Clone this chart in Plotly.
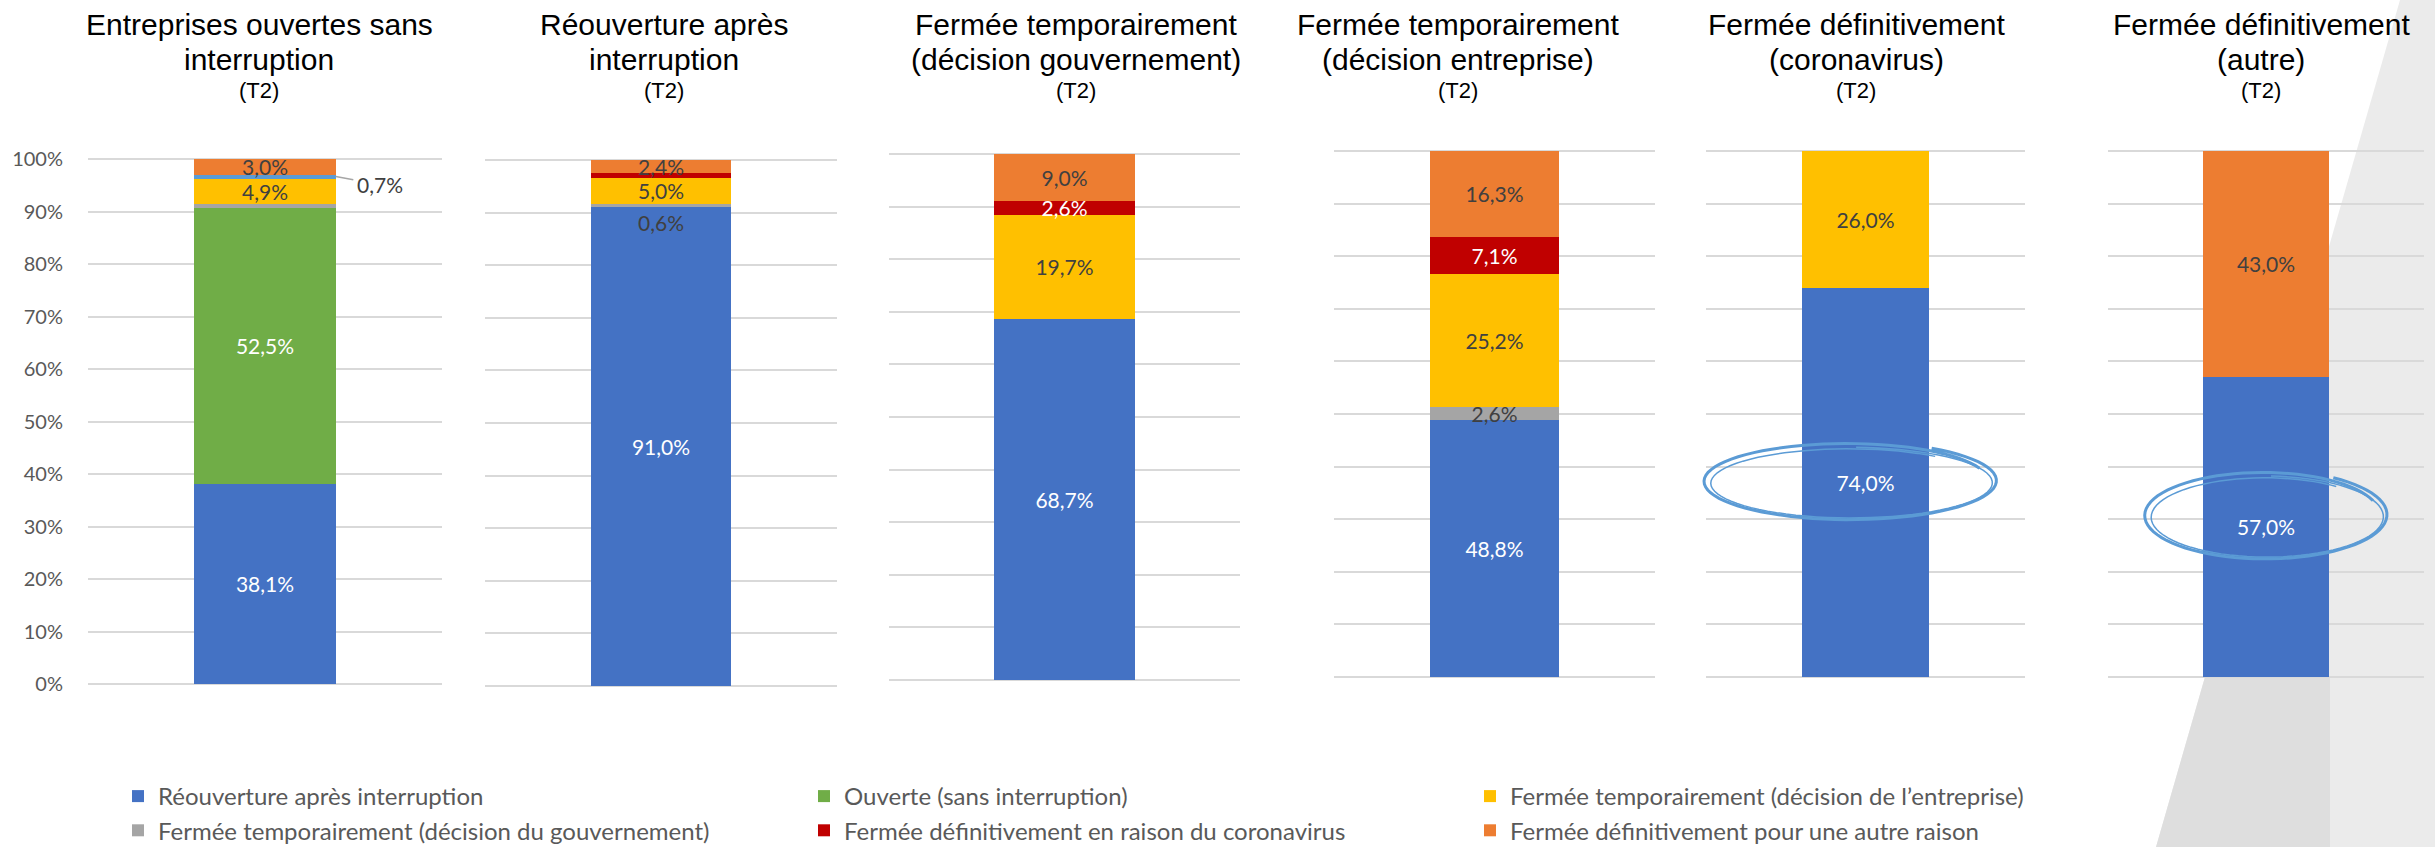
import numpy as np
import plotly.graph_objects as go

W, H = 2435, 847

# ---- data (percent of firms, T2) ----
panel_titles = [
    ("Entreprises ouvertes sans", "interruption"),
    ("Réouverture après", "interruption"),
    ("Fermée temporairement", "(décision gouvernement)"),
    ("Fermée temporairement", "(décision entreprise)"),
    ("Fermée définitivement", "(coronavirus)"),
    ("Fermée définitivement", "(autre)"),
]
period = "(T2)"
y_ticks = [0, 10, 20, 30, 40, 50, 60, 70, 80, 90, 100]

reouverture = [38.1, 91.0, 68.7, 48.8, 74.0, 57.0]
ouverte = [52.5, 0, 0, 0, 0, 0]
ferme_gouv = [0.8, 0.6, 0, 2.6, 0, 0]
ferme_entreprise = [4.9, 5.0, 19.7, 25.2, 26.0, 0]
ferme_def_corona = [0.7, 1.0, 2.6, 7.1, 0, 0]
ferme_def_autre = [3.0, 2.4, 9.0, 16.3, 0, 43.0]

series = [
    ("Réouverture après interruption", reouverture, "#4472C4", "white", "legend", 1),
    ("Ouverte (sans interruption)", ouverte, "#70AD47", "white", "legend2", 1),
    ("Fermée temporairement (décision du gouvernement)", ferme_gouv, "#A5A5A5", "#404040", "legend", 2),
    ("Fermée temporairement (décision de l’entreprise)", ferme_entreprise, "#FFC000", "#404040", "legend3", 1),
    ("Fermée définitivement en raison du coronavirus", ferme_def_corona, "#C00000", "white", "legend2", 2),
    ("Fermée définitivement pour une autre raison", ferme_def_autre, "#ED7D31", "#404040", "legend3", 2),
]
# segments whose colour differs in the original chart
color_override = {(4, 0): "#5B9BD5"}
# labels not printed inside the bar (series index, panel)
no_inside_label = {(2, 0), (4, 1), (2, 1), (4, 0)}

# ---- layout geometry (pixels of the reference) ----
panel_x = [(88, 442), (485, 837), (889, 1240), (1334, 1655), (1706, 2025), (2108, 2424)]
panel_y = [(159, 684), (160, 686), (154, 680), (151, 677), (151, 677), (151, 677)]
title_cx = [259, 664, 1076, 1458, 1856, 2261]
PAD = 0.4  # axis padding so the 0% and 100% gridlines are drawn


def px(x):
    return x / W


def py(y):
    return 1 - y / H


def fmt(v):
    return f"{v:.1f}%".replace(".", ",")


LABEL_FONT = "Lato"
fig = go.Figure()
shown = set()

for p in range(6):
    xa = "x" if p == 0 else f"x{p + 1}"
    ya = "y" if p == 0 else f"y{p + 1}"
    for s, (name, vals, color, tcolor, leg, rank) in enumerate(series):
        v = vals[p]
        if v == 0:
            continue
        c = color_override.get((s, p), color)
        show = name not in shown and c == color
        if show:
            shown.add(name)
        txt = "" if (s, p) in no_inside_label else fmt(v)
        fig.add_trace(go.Bar(
            x=[0], y=[v], xaxis=xa, yaxis=ya, width=0.4,
            name=name, legendgroup=name, showlegend=show,
            legend=leg, legendrank=rank,
            marker=dict(color=c, line=dict(width=0)),
            text=[txt], textposition="inside", insidetextanchor="middle",
            textangle=0, constraintext="none", cliponaxis=False,
            textfont=dict(family=LABEL_FONT, size=21, color=tcolor),
            hovertemplate=f"{name}: %{{y:.1f}}%<extra></extra>",
        ))

layout = dict(
    width=W, height=H, margin=dict(l=0, r=0, t=0, b=0, autoexpand=False),
    paper_bgcolor="white", plot_bgcolor="rgba(0,0,0,0)",
    barmode="stack", bargap=0, autosize=False,
)
for p in range(6):
    k = "" if p == 0 else str(p + 1)
    yt, yb = panel_y[p]
    u = (yb - yt) / 100
    layout[f"xaxis{k}"] = dict(
        domain=[px(panel_x[p][0]), px(panel_x[p][1])], range=[-0.5, 0.5],
        showticklabels=False, showgrid=False, zeroline=False, showline=False,
        anchor=f"y{k}", fixedrange=True,
    )
    layout[f"yaxis{k}"] = dict(
        domain=[py(yb + PAD * u), py(yt - PAD * u)], range=[-PAD, 100 + PAD],
        tickmode="array", tickvals=y_ticks, ticktext=[f"{t}%" for t in y_ticks],
        showgrid=True, gridcolor="#D9D9D9", gridwidth=2,
        zeroline=False, showline=False, anchor=f"x{k}",
        showticklabels=(p == 0), ticks="",
        ticklabelstandoff=24, automargin=False,
        tickfont=dict(family=LABEL_FONT, size=20, color="#595959"),
        fixedrange=True,
    )

leg_common = dict(
    orientation="v", yanchor="top", xanchor="left", traceorder="normal",
    font=dict(family=LABEL_FONT, size=24, color="#595959"),
    bgcolor="rgba(0,0,0,0)", tracegroupgap=3, itemclick="toggle",
)
layout["legend"] = dict(x=px(118), y=py(774), **leg_common)
layout["legend2"] = dict(x=px(804), y=py(774), **leg_common)
layout["legend3"] = dict(x=px(1470), y=py(774), **leg_common)
fig.update_layout(**layout)

# ---- titles ----
for p, (l1, l2) in enumerate(panel_titles):
    for txt, yc, size in ((l1, 25, 30), (l2, 59, 30), (period, 90, 22)):
        fig.add_annotation(
            x=px(title_cx[p]), y=py(yc), xref="paper", yref="paper",
            text=txt, showarrow=False, xanchor="center", yanchor="middle",
            font=dict(family="Liberation Sans", size=size, color="black"),
        )

# ---- special data labels ----
cum_p2 = reouverture[1] + ferme_gouv[1] / 2
fig.add_annotation(
    x=0, y=cum_p2, xref="x2", yref="y2", text=fmt(ferme_gouv[1]),
    showarrow=False, yshift=-17,
    font=dict(family=LABEL_FONT, size=21, color="#404040"),
)
cum_p1 = reouverture[0] + ouverte[0] + ferme_gouv[0] + ferme_entreprise[0] + ferme_def_corona[0] / 2
fig.add_annotation(
    x=0.2, y=cum_p1, xref="x", yref="y", text=fmt(ferme_def_corona[0]),
    showarrow=True, arrowhead=0, arrowwidth=1.5, arrowcolor="#A6A6A6",
    ax=44, ay=8, standoff=0, startstandoff=2,
    font=dict(family=LABEL_FONT, size=21, color="#404040"),
)

# ---- decorative background wedge ----
fig.add_shape(
    type="path", xref="paper", yref="paper", layer="below",
    path=f"M{px(2400)},1 L1,1 L1,0 L{px(2156)},0 Z",
    fillcolor="#EBEBEB", line=dict(width=0),
)
fig.add_shape(
    type="path", xref="paper", yref="paper", layer="below",
    path=f"M{px(2205)},{py(677)} L{px(2330)},{py(677)} L{px(2330)},0 L{px(2156)},0 Z",
    fillcolor="#DEDEDE", line=dict(width=0),
)


# ---- hand-drawn circles around highlighted values ----
def scribble(cx, cy, rx, ry, t0, grow):
    th = np.linspace(t0, t0 + 2.2 * np.pi, 90)
    k = 1 + grow * (th - t0) / (2.2 * np.pi)
    xs = cx + rx * k * np.cos(th)
    ys = cy - ry * k * np.sin(th)
    pts = [f"{px(a):.5f},{py(b):.5f}" for a, b in zip(xs, ys)]
    return "M" + " L".join(pts)


for cx, cy, rx, ry in ((1848, 481, 140, 37), (2264, 515, 116, 42)):
    fig.add_shape(type="path", xref="paper", yref="paper",
                  path=scribble(cx, cy, rx, ry, 0.35, 0.07),
                  line=dict(color="#5B9BD5", width=3))
    fig.add_shape(type="path", xref="paper", yref="paper",
                  path=scribble(cx + 2, cy + 2, rx - 3, ry - 3, 0.9, 0.05),
                  line=dict(color="#5B9BD5", width=1.5))

# drop the default page margin so the figure fills the window exactly
fig.write_html("out.html", config={"displayModeBar": False},
               post_script="document.body.style.margin='0';")
